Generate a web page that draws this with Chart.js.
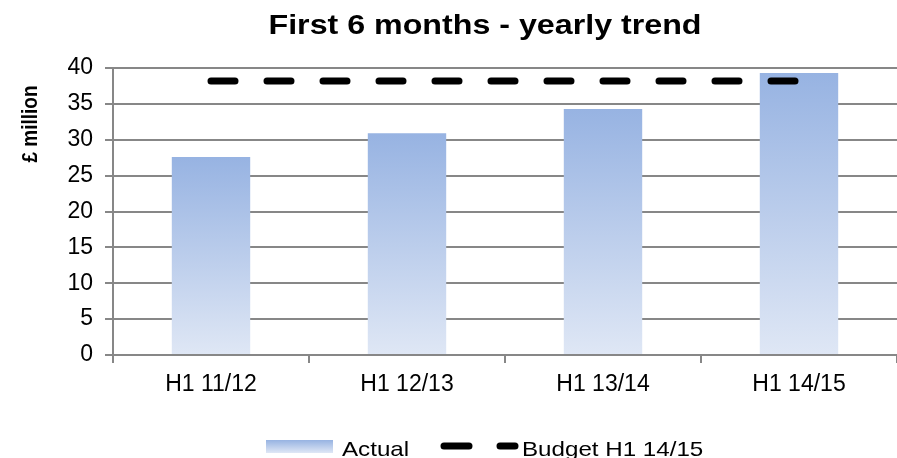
<!DOCTYPE html>
<html>
<head>
<meta charset="utf-8">
<script src="https://cdn.jsdelivr.net/npm/chart.js@4/dist/chart.umd.min.js"></script>
<style>
html,body{margin:0;padding:0;background:#fff;}
#wrap{width:897px;height:458px;position:relative;}
</style>
</head>
<body>
<div id="wrap"><canvas id="c" width="897" height="458"></canvas></div>
<script>
const categories = ["H1 11/12", "H1 12/13", "H1 13/14", "H1 14/15"];
const actualValues = [27.6, 30.9, 34.3, 39.3];
const budgetValues = [38.2, 38.2, 38.2, 38.2];
const yTicks = [0, 5, 10, 15, 20, 25, 30, 35, 40];
const chartTitle = "First 6 months - yearly trend";
const yTitle = "£ million";
const seriesNames = ["Actual", "Budget H1 14/15"];

const FONT = "'Liberation Sans', Arial, sans-serif";
const GRID = "#878787";
const TOP_C = "#97B3E2";
const BOT_C = "#DFE7F5";
const STRETCH = 1.15;

function barGradient(ctx) {
  const chart = ctx.chart;
  const area = chart.chartArea;
  if (!area || ctx.raw === undefined) return "#B0C4E8";
  const y = chart.scales.y;
  const yTop = y.getPixelForValue(ctx.raw);
  const yBot = y.getPixelForValue(0);
  const g = chart.ctx.createLinearGradient(0, yTop, 0, yBot);
  g.addColorStop(0, TOP_C);
  g.addColorStop(1, BOT_C);
  return g;
}

function stretchedText(c, text, x, y, align) {
  c.save();
  c.translate(x, y);
  c.scale(STRETCH, 1);
  c.textAlign = align;
  c.fillText(text, 0, 0);
  c.restore();
}

const decor = {
  id: "decor",
  afterDraw(chart) {
    const c = chart.ctx;
    c.save();
    c.fillStyle = "#000";
    c.textBaseline = "alphabetic";
    // title
    c.font = "bold 28px " + FONT;
    stretchedText(c, chartTitle, 485, 34, "center");
    // y title
    c.save();
    c.translate(37, 124);
    c.rotate(-Math.PI / 2);
    c.scale(1, STRETCH);
    c.font = "bold 19px " + FONT;
    c.textAlign = "center";
    c.textBaseline = "alphabetic";
    c.fillText(yTitle, 0, 0);
    c.restore();
    // legend
    const g = c.createLinearGradient(0, 440, 0, 453);
    g.addColorStop(0, TOP_C);
    g.addColorStop(1, BOT_C);
    c.fillStyle = g;
    c.fillRect(266, 440, 67, 13);
    c.fillStyle = "#000";
    c.font = "21px " + FONT;
    stretchedText(c, seriesNames[0], 342, 456, "left");
    c.strokeStyle = "#000";
    c.lineWidth = 7;
    c.lineCap = "round";
    c.beginPath();
    c.moveTo(444, 446); c.lineTo(469, 446);
    c.moveTo(500, 446); c.lineTo(515, 446);
    c.stroke();
    stretchedText(c, seriesNames[1], 522, 456, "left");
    c.restore();
  }
};

new Chart(document.getElementById("c"), {
  data: {
    labels: categories,
    datasets: [
      {
        type: "line",
        label: seriesNames[1],
        data: budgetValues,
        borderColor: "#000",
        borderWidth: 7,
        borderDash: [24, 32],
        borderCapStyle: "round",
        pointRadius: 0,
        fill: false,
        order: 0
      },
      {
        type: "bar",
        label: seriesNames[0],
        data: actualValues,
        backgroundColor: barGradient,
        borderWidth: 0,
        barPercentage: 0.4,
        categoryPercentage: 1.0,
        order: 1
      }
    ]
  },
  options: {
    responsive: false,
    animation: false,
    devicePixelRatio: 1,
    layout: { padding: { top: 68, left: 0, right: 0, bottom: 55 } },
    plugins: {
      legend: { display: false },
      title: { display: false },
      tooltip: { enabled: false }
    },
    scales: {
      x: {
        offset: true,
        grid: { offset: true, drawOnChartArea: false, color: GRID, lineWidth: 2, tickLength: 8 },
        border: { color: GRID, width: 2 },
        ticks: { color: "#000", font: { family: FONT, size: 23 }, padding: 8, maxRotation: 0 },
        afterFit(s) { s.height = 48; }
      },
      y: {
        min: 0,
        max: 40,
        afterBuildTicks(s) { s.ticks = yTicks.map(v => ({ value: v })); },
        grid: { color: GRID, lineWidth: 2, tickLength: 8 },
        border: { color: GRID, width: 2 },
        ticks: { color: "#000", font: { family: FONT, size: 23 }, padding: 12 },
        afterFit(s) { s.width = 113; }
      }
    }
  },
  plugins: [decor]
});
</script>
</body>
</html>
